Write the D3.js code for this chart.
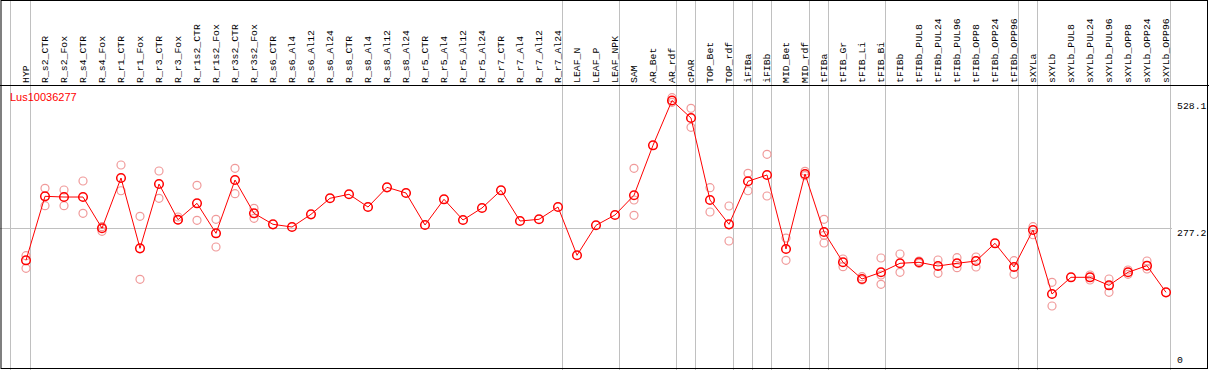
<!DOCTYPE html>
<html>
<head>
<meta charset="utf-8">
<script src="https://cdn.jsdelivr.net/npm/d3@7"></script>
<style>
  html, body { margin: 0; padding: 0; background: #fff; }
  svg { display: block; }
  .col-label, .tick-label { font-family: 'Liberation Mono', 'DejaVu Sans Mono', monospace; fill: #000; }
  .gene-label { font-family: 'Liberation Sans', Arial, sans-serif; font-size: 11px; fill: #ff0000; }
</style>
</head>
<body>
<div id="chart"></div>
<script>
(function () {
  'use strict';

  // sample names, one column each
  const categories = [
    'HYP', 'R_s2_CTR', 'R_s2_Fox', 'R_s4_CTR', 'R_s4_Fox', 'R_r1_CTR', 'R_r1_Fox',
    'R_r3_CTR', 'R_r3_Fox', 'R_r1s2_CTR', 'R_r1s2_Fox', 'R_r3s2_CTR', 'R_r3s2_Fox',
    'R_s6_CTR', 'R_s6_Al4', 'R_s6_Al12', 'R_s6_Al24', 'R_s8_CTR', 'R_s8_Al4',
    'R_s8_Al12', 'R_s8_Al24', 'R_r5_CTR', 'R_r5_Al4', 'R_r5_Al12', 'R_r5_Al24',
    'R_r7_CTR', 'R_r7_Al4', 'R_r7_Al12', 'R_r7_Al24', 'LEAF_N', 'LEAF_P', 'LEAF_NPK',
    'SAM', 'AR_Bet', 'AR_rdf', 'cPAR', 'TOP_Bet', 'TOP_rdf', 'iFIBa', 'iFIBb',
    'MID_Bet', 'MID_rdf', 'tFIBa', 'tFIB_Gr', 'tFIB_Li', 'tFIB_Bi', 'tFIBb',
    'tFIBb_PUL8', 'tFIBb_PUL24', 'tFIBb_PUL96', 'tFIBb_OPP8', 'tFIBb_OPP24', 'tFIBb_OPP96',
    'sXYLa', 'sXYLb', 'sXYLb_PUL8', 'sXYLb_PUL24', 'sXYLb_PUL96', 'sXYLb_OPP8',
    'sXYLb_OPP24', 'sXYLb_OPP96'
  ];

  // mean expression per sample
  const meanValues = [
    213.2, 339.3, 337.9, 337.9, 276.3, 375.4, 236.8, 363.5, 293.2, 325.5, 266.4, 371.4, 305.8,
    284.1, 278.8, 303.8, 335.4, 343.3, 318.2, 357.0, 345.8, 282.8, 333.4, 292.6, 316.3,
    351.1, 290.6, 294.0, 318.2, 223.1, 282.2, 302.5,
    341.3, 439.8, 528.1, 493.6, 332.0, 284.1, 368.9, 381.3, 235.5, 383.3,
    269.0, 209.3, 176.4, 189.6, 207.3, 209.3, 202.0, 207.3, 211.8, 246.7, 200.0,
    272.9, 146.8, 179.7, 179.7, 163.9, 189.6, 202.6, 150.1
  ];

  // individual replicates (empty where they sit under the mean)
  const replicateValues = [
    [222.3, 197.4], [355.1, 320.8], [351.7, 320.8], [369.5, 305.8], [279.4, 270.3],
    [401.0, 350.3], [299.9, 175.8], [389.2, 335.4], [298.5, 292.6], [361.0, 292.0],
    [294.0, 239.4], [394.5, 344.4], [315.7, 296.0],
    [], [], [], [], [], [], [], [], [], [], [], [], [], [], [], [], [], [], [],
    [394.5, 332.0, 301.9], [], [533.6, 524.5], [512.7, 475.3], [356.3, 308.4],
    [320.2, 251.2], [384.6, 350.3], [422.1, 339.9], [257.1, 213.2], [388.6, 379.9],
    [294.0, 247.3, 262.5], [215.8, 200.6], [180.9, 174.4], [217.7, 165.9, 184.2],
    [225.6, 189.6], [211.8, 207.3], [213.8, 187.6], [218.3, 198.6], [219.7, 200.0],
    [], [212.4, 185.6], [279.4, 263.6], [169.9, 123.2], [], [184.2, 174.4],
    [176.4, 150.1], [194.1, 185.6], [211.8, 196.1], []
  ];

  // last column index of each sample group (grey separators)
  const groupEnds = [0, 28, 31, 34, 35, 37, 38, 39, 41, 42, 45, 52, 53, 60];

  const tickValues = [0, 277.2, 528.1];
  const refValue = 277.2;
  const geneName = 'Lus10036277';

  const width = 1209;
  const height = 370;
  const headerY = 85.5;
  const bottomY = 368.5;
  const rightX = 1207.5;

  const svg = d3.select('#chart')
    .append('svg')
    .attr('width', width)
    .attr('height', height);

  const x = d3.scaleLinear()
    .domain([0, categories.length - 1])
    .range([26, 1166]);

  const y = d3.scaleLinear()
    .domain([0, d3.max(meanValues)])
    .range([bottomY, 100.5]);

  // grey grid: group separators and the reference line
  const grid = svg.append('g');

  grid.append('line')
    .attr('x1', x(0) - 15.5).attr('x2', x(0) - 15.5)
    .attr('y1', 0).attr('y2', height)
    .attr('stroke', '#c0c0c0');

  grid.selectAll('line.sep')
    .data(groupEnds)
    .enter()
    .append('line')
    .attr('class', 'sep')
    .attr('x1', d => Math.round(x(d) + 4) + 0.5)
    .attr('x2', d => Math.round(x(d) + 4) + 0.5)
    .attr('y1', 0)
    .attr('y2', height)
    .attr('stroke', '#c0c0c0');

  grid.append('line')
    .attr('x1', 0).attr('x2', 1172)
    .attr('y1', Math.round(y(refValue)) + 0.5)
    .attr('y2', Math.round(y(refValue)) + 0.5)
    .attr('stroke', '#c0c0c0');

  // frame and header rule
  svg.append('rect')
    .attr('x', 1).attr('y', 0.5)
    .attr('width', rightX - 1).attr('height', bottomY - 0.5)
    .attr('fill', 'none')
    .attr('stroke', '#000');

  svg.append('line')
    .attr('x1', 0).attr('x2', width)
    .attr('y1', headerY).attr('y2', headerY)
    .attr('stroke', '#000');

  // rotated column labels
  svg.selectAll('text.col-label')
    .data(categories)
    .enter()
    .append('text')
    .attr('class', 'col-label')
    .attr('transform', (d, i) => `translate(${x(i)},83) rotate(-90)`)
    .attr('dy', '0.35em')
    .style('font-size', '9.8px')
    .text(d => d);

  // value labels on the right
  svg.selectAll('text.tick-label')
    .data(tickValues)
    .enter()
    .append('text')
    .attr('class', 'tick-label')
    .attr('x', 1177)
    .attr('y', d => Math.min(y(d) + 2, 357))
    .attr('dominant-baseline', 'hanging')
    .style('font-size', '9.8px')
    .text(d => d);

  svg.append('text')
    .attr('class', 'gene-label')
    .attr('x', 10)
    .attr('y', 101)
    .text(geneName);

  // replicates first, so the mean sits on top
  const reps = [];
  replicateValues.forEach((vals, i) => vals.forEach(v => reps.push({i, v})));

  svg.append('g')
    .selectAll('circle')
    .data(reps)
    .enter()
    .append('circle')
    .attr('cx', d => x(d.i))
    .attr('cy', d => y(d.v))
    .attr('r', 4)
    .attr('fill', 'none')
    .attr('stroke', '#f09a9a')
    .attr('stroke-width', 1.2);

  const line = d3.line()
    .x((d, i) => x(i))
    .y(d => y(d));

  svg.append('path')
    .datum(meanValues)
    .attr('d', line)
    .attr('fill', 'none')
    .attr('stroke', '#ff0000')
    .attr('stroke-width', 1);

  svg.append('g')
    .selectAll('circle')
    .data(meanValues)
    .enter()
    .append('circle')
    .attr('cx', (d, i) => x(i))
    .attr('cy', d => y(d))
    .attr('r', 4.3)
    .attr('fill', 'none')
    .attr('stroke', '#ff0000')
    .attr('stroke-width', 1.5);
})();
</script>
</body>
</html>
